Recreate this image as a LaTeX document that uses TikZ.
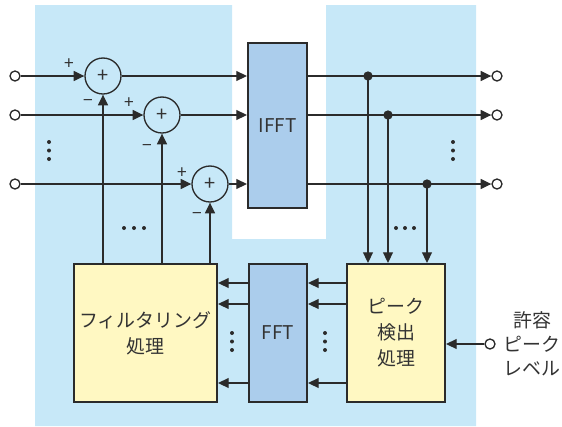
\documentclass[tikz,border=0pt]{standalone}
\usepackage{fontspec}
\setmainfont{Noto Sans CJK JP}
\usetikzlibrary{arrows.meta}
\definecolor{bgblue}{HTML}{C7E8F8}
\definecolor{boxblue}{HTML}{ABCDEC}
\definecolor{boxyellow}{HTML}{FFF8C2}
\definecolor{ink}{HTML}{2B2B2B}
\definecolor{txt}{HTML}{333333}
\begin{document}
\begin{tikzpicture}[x=0.75pt,y=-0.75pt,
  line width=1pt, draw=ink,
  arr/.style={draw=ink,-{Triangle[length=8pt,width=7.5pt]}},
  blk/.style={draw=ink,line width=1.6pt,rectangle,inner sep=0pt,font=\fontsize{14.2}{19.5}\selectfont,text=txt,align=center},
  sumnode/.style={draw=ink,circle,minimum size=27pt,inner sep=0pt,fill=bgblue,font=\fontsize{15}{15}\selectfont,text=txt},
  port/.style={draw=ink,circle,minimum size=7.5pt,inner sep=0pt,fill=white},
  sgn/.style={font=\fontsize{13}{13}\selectfont,text=txt,inner sep=0pt},
  dotc/.style={fill=ink},
  junc/.style={fill=ink,circle,minimum size=7pt,inner sep=0pt}
]
\useasboundingbox (0,0) rectangle (562,426);
\fill[bgblue] (35,5) -- (232,5) -- (232,239) -- (326,239) -- (326,5) -- (476,5) -- (476,426) -- (35,426) -- cycle;

% blocks
\node[blk,fill=boxblue,minimum width=44.25pt,minimum height=123.75pt] (ifft) at (277.5,125.5) {IFFT};
\node[blk,fill=boxblue,minimum width=43.5pt,minimum height=103.5pt] (fft) at (278,333) {FFT};
\node[blk,fill=boxyellow,minimum width=107.25pt,minimum height=103.5pt] (filt) at (145.5,333) {フィルタリング\\処理};
\node[blk,fill=boxyellow,minimum width=73.5pt,minimum height=103.5pt] (peak) at (396,333) {ピーク\\検出\\処理};

% summing nodes
\node[sumnode] (s1) at (103,76) {+};
\node[sumnode] (s2) at (162,115) {+};
\node[sumnode] (s3) at (210,184) {+};

% input ports
\node[port] (i1) at (15,76) {};
\node[port] (i2) at (15,115) {};
\node[port] (i3) at (15,184) {};
% output ports
\node[port] (o1) at (497,76) {};
\node[port] (o2) at (497,115) {};
\node[port] (o3) at (497,184) {};
% peak level input
\node[port] (pl) at (490,344) {};
\node[text=txt,font=\fontsize{14.2}{18}\selectfont,align=center,inner sep=0pt] (pllabel) at (532,344) {許容\\ピーク\\レベル};

% signs
\node[sgn] (p1) at (69,64) {+};
\node[sgn] (m1) at (88,103) {−};
\node[sgn] (p2) at (129,103) {+};
\node[sgn] (m2) at (147,148) {−};
\node[sgn] (p3) at (182,173) {+};
\node[sgn] (m3) at (197,216) {−};

% inputs to sums
\draw[arr] (i1) -- (s1);
\draw[arr] (i2) -- (s2);
\draw[arr] (i3) -- (s3);
% sums to IFFT
\draw[arr] (s1) -- (s1 -| ifft.west);
\draw[arr] (s2) -- (s2 -| ifft.west);
\draw[arr] (s3) -- (s3 -| ifft.west);
% filter to sums
\draw[arr] (s1 |- filt.north) -- (s1);
\draw[arr] (s2 |- filt.north) -- (s2);
\draw[arr] (s3 |- filt.north) -- (s3);

% junctions
\coordinate (j1) at (368,76);
\coordinate (j2) at (388,115);
\coordinate (j3) at (427,184);
\draw[arr] (j1 -| ifft.east) -- (o1);
\draw[arr] (j2 -| ifft.east) -- (o2);
\draw[arr] (j3 -| ifft.east) -- (o3);
\draw[arr] (j1) -- (j1 |- peak.north);
\draw[arr] (j2) -- (j2 |- peak.north);
\draw[arr] (j3) -- (j3 |- peak.north);
\node[junc] at (j1) {};
\node[junc] at (j2) {};
\node[junc] at (j3) {};

% peak -> fft -> filter
\foreach \yy in {283,304,383}{
  \coordinate (ra) at (0,\yy);
  \draw[arr] (peak.west |- ra) -- (fft.east |- ra);
  \draw[arr] (fft.west |- ra) -- (filt.east |- ra);
}
% peak level arrow
\draw[arr] (pl) -- (pl -| peak.east);

% dots
\foreach \xx in {49,453,232,325}{
  \ifnum\xx<200 \def\yo{142}\else\ifnum\xx>400 \def\yo{142}\else\def\yo{333}\fi\fi
  \foreach \k in {0,1,2}{\fill[dotc] (\xx,\yo+8.5*\k) circle (1.5pt);}
}
\foreach \xx in {124,134,144,396,405,414}{\fill[dotc] (\xx,228) circle (1.5pt);}
\end{tikzpicture}
\end{document}
